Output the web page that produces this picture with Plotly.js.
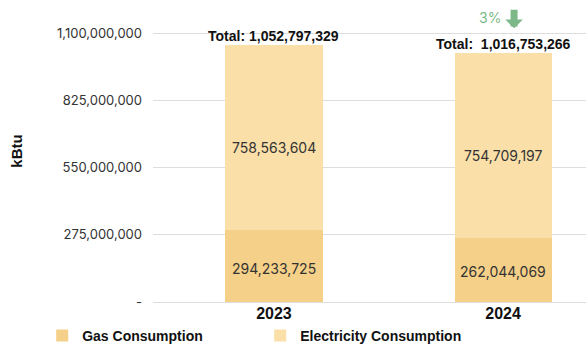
<!DOCTYPE html>
<html>
<head>
<meta charset="utf-8">
<script src="https://cdn.plot.ly/plotly-3.0.1.min.js"></script>
<style>html,body{margin:0;padding:0;background:#fff;}#chart{width:586px;height:352px;}</style>
</head>
<body>
<div id="chart"></div>
<script>
const years = ["2023", "2024"];
const gas = [294233725, 262044069];
const electricity = [758563604, 754709197];
const totalLabels = ["Total: 1,052,797,329", "Total:  1,016,753,266"];
const changeLabel = "3%";
const yTickVals = [0, 275000000, 550000000, 825000000, 1100000000];
const yTickText = ["-", "275,000,000", "550,000,000", "825,000,000", "1,100,000,000"];

const fmt = v => v.toLocaleString("en-US");
const totals = years.map((_, i) => gas[i] + electricity[i]);

const traces = [
  {
    type: "bar", name: "Gas Consumption", x: years, y: gas,
    marker: {color: "#F5D088"}, width: 0.424, hoverinfo: "none"
  },
  {
    type: "bar", name: "Electricity Consumption", x: years, y: electricity,
    marker: {color: "#FADFA9"}, width: 0.424, hoverinfo: "none"
  }
];

// category index positions (numeric-looking strings would be read as indices)
const valFont = {family: "Inter, sans-serif", size: 14, color: "#333"};
const annotations = [];
years.forEach((yr, i) => {
  annotations.push({x: i, y: gas[i] / 2, xref: "x", yref: "y", text: fmt(gas[i]),
    showarrow: false, yshift: -2, font: valFont});
  annotations.push({x: i, y: gas[i] + electricity[i] / 2, xref: "x", yref: "y", text: fmt(electricity[i]),
    showarrow: false, yshift: -10, font: valFont});
  annotations.push({x: i, y: totals[i], xref: "x", yref: "y", text: "<b>" + totalLabels[i] + "</b>",
    showarrow: false, yanchor: "bottom", yshift: -1,
    font: {family: "Liberation Sans, Arial, sans-serif", size: 14, color: "#111"}});
});
annotations.push({
  x: 1, y: totals[1], xref: "x", yref: "y",
  text: changeLabel, showarrow: false, yanchor: "middle", xanchor: "right", yshift: 36, xshift: 0,
  font: {family: "Inter, sans-serif", size: 14, color: "#7DB889"}
});
annotations.push({
  x: 1, y: totals[1], xref: "x", yref: "y",
  text: "", showarrow: true, ax: 0, ay: -20,
  xshift: 11, yshift: 25,
  arrowcolor: "#7DB889", arrowwidth: 7, arrowhead: 1, arrowsize: 0.42, standoff: 0
});

const layout = {
  width: 586, height: 352,
  margin: {l: 153, r: 0, t: 0, b: 50},
  barmode: "stack",
  paper_bgcolor: "#fff", plot_bgcolor: "#fff",
  showlegend: true,
  legend: {orientation: "h", xref: "container", yref: "container", x: 0.072, xanchor: "left", y: -0.025, yanchor: "bottom",
    bgcolor: "rgba(0,0,0,0)",
    font: {family: "Liberation Sans, Arial, sans-serif", size: 14, color: "#111", weight: "bold"},
    traceorder: "normal", entrywidth: 173, itemwidth: 30},
  xaxis: {
    type: "category", range: [-0.528, 1.362],
    tickfont: {family: "Liberation Sans, Arial, sans-serif", size: 16, color: "#111", weight: "bold"},
    showline: false, showgrid: false, ticks: ""
  },
  yaxis: {
    range: [0, 1100000000 * (1 + 33 / 269)],
    tickvals: yTickVals, ticktext: yTickText,
    tickfont: {family: "Inter, sans-serif", size: 13, color: "#333"},
    gridcolor: "#dddddd", gridwidth: 1, zeroline: true, zerolinecolor: "#dddddd",
    ticks: "", ticklabelstandoff: 10,
    title: {text: "<b>kBtu</b>", font: {family: "Liberation Sans, Arial, sans-serif", size: 15, color: "#111"}, standoff: 30}
  },
  annotations: annotations
};

Plotly.newPlot("chart", traces, layout, {displayModeBar: false, staticPlot: true});
</script>
</body>
</html>
